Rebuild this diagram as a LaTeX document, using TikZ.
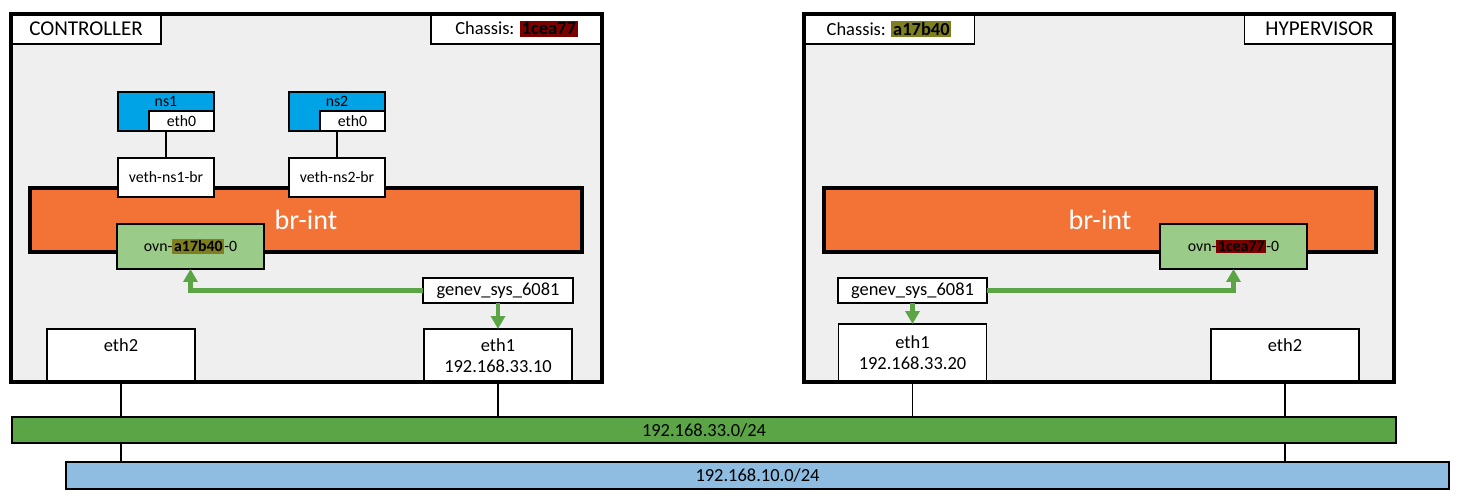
\documentclass[tikz,border=0pt]{standalone}
\usepackage{fontspec}
\setmainfont{Carlito}
\usetikzlibrary{positioning,arrows.meta}

\definecolor{hostgray}{HTML}{EFEFEF}
\definecolor{nsblue}{HTML}{00A3E6}
\definecolor{brorange}{HTML}{F27335}
\definecolor{ovngreen}{HTML}{9BCB89}
\definecolor{linkgreen}{HTML}{5CA546}
\definecolor{lanblue}{HTML}{8FBCE1}
\definecolor{idred}{HTML}{7A0000}
\definecolor{idolive}{HTML}{7F7F20}

\newcommand{\chassisid}[2]{{\setlength{\fboxsep}{1pt}\colorbox{#1}{\textbf{#2}}}}

\begin{document}
\begin{tikzpicture}[
    x=0.02cm, y=-0.02cm,
    every node/.style={
        inner sep=0pt,
        outer sep=0pt,
        align=center
    },
    host/.style={fill=hostgray, minimum width=11.82cm, minimum height=7.36cm},
    hostlabel/.style={draw, fill=white, line width=0.9pt, minimum height=0.6cm},
    nsbox/.style={draw, fill=nsblue, line width=0.8pt, minimum width=1.92cm, minimum height=0.78cm},
    smallbox/.style={draw, fill=white, line width=0.8pt, font=\fontsize{9}{11}\selectfont},
    bridge/.style={draw, fill=brorange, line width=2.4pt, minimum width=11.04cm,
        minimum height=1.28cm, text=white, font=\fontsize{16}{19}\selectfont},
    ovnbox/.style={draw, fill=ovngreen, line width=0.8pt, minimum width=2.94cm,
        minimum height=0.9cm, font=\fontsize{9}{11}\selectfont},
    portbox/.style={draw, fill=white, line width=0.9pt, minimum width=3cm,
        minimum height=0.5cm, font=\fontsize{10.5}{12}\selectfont},
    nicbox/.style={draw, fill=white, line width=0.9pt, minimum width=2.96cm,
        minimum height=1.06cm, font=\fontsize{10.5}{12}\selectfont},
    lan/.style={draw, line width=1.3pt, minimum height=0.53cm, font=\fontsize{10.5}{12}\selectfont},
    tunnel/.style={->, draw=linkgreen, line width=2.8pt},
    >={Triangle[width=0.28cm,length=0.26cm]}
]
\useasboundingbox (0,0) rectangle (1457,497);

% Hosts
\node[host] (ctrl) at (306.5,198) {};
\node[host] (hyp) at (1099,198) {};

% Titles
\node[hostlabel, minimum width=3cm, anchor=north west, font=\fontsize{12}{14}\selectfont]
    (ctrl_name) at (ctrl.north west) {CONTROLLER};
\node[hostlabel, minimum width=3.42cm, anchor=north east, font=\fontsize{10.5}{12}\selectfont]
    (ctrl_chassis) at (ctrl.north east) {Chassis: \chassisid{idred}{1cea77}};
\node[hostlabel, minimum width=3.42cm, anchor=north west, font=\fontsize{10.5}{12}\selectfont]
    (hyp_chassis) at (hyp.north west) {Chassis: \chassisid{idolive}{a17b40}};
\node[hostlabel, minimum width=3cm, anchor=north east, font=\fontsize{12}{14}\selectfont]
    (hyp_name) at (hyp.north east) {HYPERVISOR};

% Bridges
\node[bridge] (ctrl_br) at (306,220) {br-int};
\node[bridge] (hyp_br) at (1100,220) {br-int};

% Namespaces
\node[nsbox, label={[anchor=north, yshift=-2.5pt, font=\fontsize{9}{11}\selectfont]north:ns1}]
    (ns1) at (166,111.5) {};
\node[smallbox, minimum width=1.3cm, minimum height=0.4cm, anchor=south east]
    (ns1_eth0) at (ns1.south east) {eth0};
\node[nsbox, label={[anchor=north, yshift=-2.5pt, font=\fontsize{9}{11}\selectfont]north:ns2}]
    (ns2) at (337,111.5) {};
\node[smallbox, minimum width=1.3cm, minimum height=0.4cm, anchor=south east]
    (ns2_eth0) at (ns2.south east) {eth0};

\node[smallbox, minimum width=1.92cm, minimum height=0.78cm, below=0.54cm of ns1]
    (veth1) {veth-ns1-br};
\node[smallbox, minimum width=1.92cm, minimum height=0.78cm, below=0.54cm of ns2]
    (veth2) {veth-ns2-br};

% Tunnel ports
\node[ovnbox] (ctrl_ovn) at (190.5,246.5) {ovn-\chassisid{idolive}{a17b40}-0};
\node[ovnbox] (hyp_ovn) at (1233.5,246.5) {ovn-\chassisid{idred}{1cea77}-0};

\node[portbox] (ctrl_genev) at (498,290.5) {genev\_sys\_6081};
\node[portbox, minimum width=2.98cm] (hyp_genev) at (912.5,290.5) {genev\_sys\_6081};

% Interfaces
\node[nicbox] (ctrl_eth2) at (121,355.5) {eth2\\\phantom{192}};
\node[nicbox] (ctrl_eth1) at (498,355.5) {eth1\\192.168.33.10};
\node[nicbox, minimum height=1.16cm] (hyp_eth1) at (912.5,353) {eth1\\192.168.33.20};
\node[nicbox] (hyp_eth2) at (1285,355.5) {eth2\\\phantom{192}};

% Host frames
\draw[line width=2.3pt] (ctrl.north west) rectangle (ctrl.south east);
\draw[line width=2.3pt] (hyp.north west) rectangle (hyp.south east);

% Networks
\node[lan, fill=linkgreen, minimum width=27.68cm] (lan33) at (704,430) {192.168.33.0/24};
\node[lan, fill=lanblue, minimum width=27.66cm] (lan10) at (757.5,475.5) {192.168.10.0/24};

% Connections
\draw[line width=0.9pt] (ns1) -- (veth1);
\draw[line width=0.9pt] (ns2) -- (veth2);

\draw[line width=0.9pt] (ctrl_eth2) -- (ctrl_eth2 |- lan33.north);
\draw[line width=0.9pt] (ctrl_eth1) -- (ctrl_eth1 |- lan33.north);
\draw[line width=0.9pt] (hyp_eth1) -- (hyp_eth1 |- lan33.north);
\draw[line width=0.9pt] (hyp_eth2) -- (hyp_eth2 |- lan33.north);
\draw[line width=0.9pt] (lan33.south -| ctrl_eth2) -- (ctrl_eth2 |- lan10.north);
\draw[line width=0.9pt] (lan33.south -| hyp_eth2) -- (hyp_eth2 |- lan10.north);

\draw[tunnel] (ctrl_genev.west) -| (ctrl_ovn.south);
\draw[tunnel] (ctrl_genev) -- (ctrl_eth1);
\draw[tunnel] (hyp_genev.east) -| (hyp_ovn.south);
\draw[tunnel] (hyp_genev) -- (hyp_eth1);

\end{tikzpicture}
\end{document}
